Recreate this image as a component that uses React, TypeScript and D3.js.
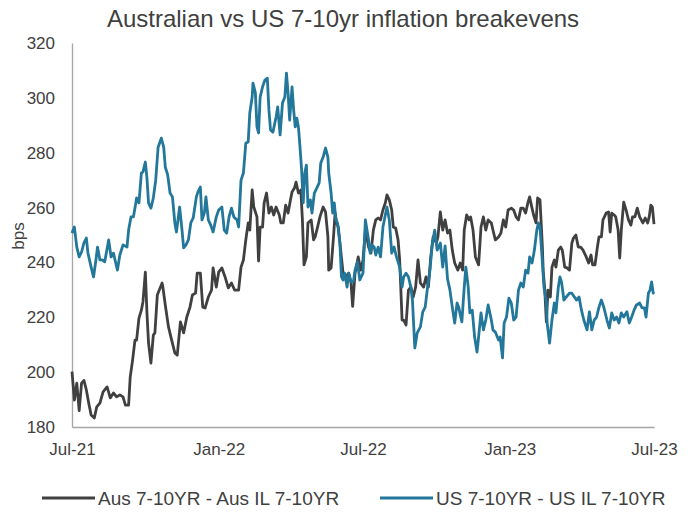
import React, { useEffect, useRef } from 'react';
import * as d3 from 'd3';

// Aus 7-10YR - Aus IL 7-10YR (bps)
const ausSeries: [string, number][] = [
  ['2021-07-01', 200.2], ['2021-07-04', 189.8], ['2021-07-07', 196], ['2021-07-10', 186], ['2021-07-13', 196],
  ['2021-07-16', 197], ['2021-07-19', 193.5], ['2021-07-22', 188.7], ['2021-07-25', 184.4], ['2021-07-29', 183.3],
  ['2021-08-01', 187.3], ['2021-08-05', 188.7], ['2021-08-09', 192.8], ['2021-08-14', 194.6], ['2021-08-18', 190.6],
  ['2021-08-22', 192.4], ['2021-08-26', 191], ['2021-08-30', 191.7], ['2021-09-03', 191], ['2021-09-06', 188],
  ['2021-09-10', 188], ['2021-09-12', 198.2], ['2021-09-15', 204.4], ['2021-09-18', 211.7], ['2021-09-20', 211.7],
  ['2021-09-23', 219.7], ['2021-09-26', 222.6], ['2021-09-28', 225.6], ['2021-10-01', 236.5], ['2021-10-03', 221.6],
  ['2021-10-05', 210.6], ['2021-10-08', 203.3], ['2021-10-11', 213.5], ['2021-10-13', 214.3], ['2021-10-16', 228.1],
  ['2021-10-22', 232.5], ['2021-10-23', 231], ['2021-10-26', 224.5], ['2021-10-30', 216.5], ['2021-11-03', 211.7],
  ['2021-11-07', 207], ['2021-11-10', 206.2], ['2021-11-14', 218.3], ['2021-11-18', 214.3], ['2021-11-22', 220.1],
  ['2021-11-26', 223.7], ['2021-11-29', 228.1], ['2021-12-03', 228.8], ['2021-12-05', 236.1], ['2021-12-09', 236.1],
  ['2021-12-12', 223.7], ['2021-12-15', 223.4], ['2021-12-19', 227.4], ['2021-12-23', 229.9], ['2021-12-25', 238],
  ['2021-12-29', 231], ['2022-01-01', 236.5], ['2022-01-05', 238], ['2022-01-09', 234.7], ['2022-01-13', 230.7],
  ['2022-01-17', 232.5], ['2022-01-21', 229.9], ['2022-01-26', 229.9], ['2022-01-29', 238.3], ['2022-02-01', 240.9],
  ['2022-02-04', 248.2], ['2022-02-07', 254.4], ['2022-02-09', 251.8], ['2022-02-12', 266.4], ['2022-02-14', 260.2],
  ['2022-02-18', 256.6], ['2022-02-20', 240.5], ['2022-02-22', 252.9], ['2022-02-25', 252.9], ['2022-02-27', 261.7],
  ['2022-03-02', 265.3], ['2022-03-05', 258], ['2022-03-08', 260.2], ['2022-03-11', 257.3], ['2022-03-14', 260.2],
  ['2022-03-18', 257.3], ['2022-03-20', 254.4], ['2022-03-23', 254.4], ['2022-03-26', 260.9], ['2022-03-29', 258],
  ['2022-04-01', 262.8], ['2022-04-03', 265.7], ['2022-04-06', 267.1], ['2022-04-08', 269.3], ['2022-04-11', 265.3],
  ['2022-04-14', 266.4], ['2022-04-16', 255.5], ['2022-04-18', 239.1], ['2022-04-21', 242], ['2022-04-23', 254.4],
  ['2022-04-27', 255.5], ['2022-04-30', 248.2], ['2022-05-02', 249.3], ['2022-05-05', 252.9], ['2022-05-08', 256.6],
  ['2022-05-12', 260.2], ['2022-05-15', 258.4], ['2022-05-18', 249.3], ['2022-05-19', 237.2], ['2022-05-22', 238],
  ['2022-05-25', 249.3], ['2022-05-27', 258], ['2022-05-29', 254.4], ['2022-05-31', 252.9], ['2022-06-03', 244.5],
  ['2022-06-06', 236.1], ['2022-06-09', 234.7], ['2022-06-13', 236.1], ['2022-06-16', 232.5], ['2022-06-18', 224],
  ['2022-06-21', 236], ['2022-06-25', 242], ['2022-06-28', 237.2], ['2022-07-01', 240.9], ['2022-07-04', 251.8],
  ['2022-07-08', 245.6], ['2022-07-11', 243.4], ['2022-07-14', 251.8], ['2022-07-17', 255.5], ['2022-07-20', 256.2],
  ['2022-07-23', 255.5], ['2022-07-26', 259.1], ['2022-07-29', 261.7], ['2022-07-31', 264.6], ['2022-08-03', 262.8],
  ['2022-08-06', 259.1], ['2022-08-08', 252.9], ['2022-08-11', 252.5], ['2022-08-14', 248.2], ['2022-08-16', 240.9],
  ['2022-08-19', 219], ['2022-08-21', 219], ['2022-08-24', 217.2], ['2022-08-27', 229.9], ['2022-08-30', 231],
  ['2022-09-02', 227.4], ['2022-09-05', 231], ['2022-09-08', 240.9], ['2022-09-11', 232.5], ['2022-09-15', 231],
  ['2022-09-18', 234.7], ['2022-09-21', 231], ['2022-09-24', 242], ['2022-09-27', 249.3], ['2022-10-01', 247.1],
  ['2022-10-03', 249.3], ['2022-10-06', 258.4], ['2022-10-09', 251.8], ['2022-10-12', 255.5], ['2022-10-15', 250.7],
  ['2022-10-18', 251.8], ['2022-10-21', 244.5], ['2022-10-24', 239.8], ['2022-10-28', 237.2], ['2022-10-31', 239.8],
  ['2022-11-03', 237.2], ['2022-11-05', 251.8], ['2022-11-08', 257.3], ['2022-11-11', 255.5], ['2022-11-13', 256.6],
  ['2022-11-16', 251.8], ['2022-11-19', 242], ['2022-11-23', 239.1], ['2022-11-26', 252.9], ['2022-11-29', 256.6],
  ['2022-12-02', 251.8], ['2022-12-05', 255.5], ['2022-12-09', 254.4], ['2022-12-11', 251.8], ['2022-12-14', 248.2],
  ['2022-12-18', 249.3], ['2022-12-21', 250.7], ['2022-12-24', 255.5], ['2022-12-27', 252.9], ['2022-12-30', 259.1],
  ['2023-01-03', 259.8], ['2023-01-06', 259.1], ['2023-01-09', 256.6], ['2023-01-12', 255.5], ['2023-01-15', 259.8],
  ['2023-01-18', 259.8], ['2023-01-21', 258], ['2023-01-24', 262], ['2023-01-26', 263.9], ['2023-01-29', 259.8],
  ['2023-01-31', 257.3], ['2023-02-03', 254.4], ['2023-02-05', 263.5], ['2023-02-08', 262.8], ['2023-02-11', 245.6],
  ['2023-02-12', 237], ['2023-02-14', 230], ['2023-02-16', 218.3], ['2023-02-18', 229.9], ['2023-02-21', 227.4],
  ['2023-02-23', 238.3], ['2023-02-26', 240.9], ['2023-02-28', 238.3], ['2023-03-03', 244.5], ['2023-03-06', 245.6],
  ['2023-03-08', 244.5], ['2023-03-11', 238.3], ['2023-03-14', 238], ['2023-03-17', 237.2], ['2023-03-20', 247.1],
  ['2023-03-22', 248.9], ['2023-03-25', 250], ['2023-03-28', 245.6], ['2023-03-31', 245.6], ['2023-04-03', 244.5],
  ['2023-04-07', 242], ['2023-04-10', 239.8], ['2023-04-13', 242.7], ['2023-04-15', 239.1], ['2023-04-18', 239.1],
  ['2023-04-21', 245.6], ['2023-04-23', 249.3], ['2023-04-26', 249.3], ['2023-04-28', 255.5], ['2023-05-02', 258],
  ['2023-05-05', 258.4], ['2023-05-07', 251.1], ['2023-05-09', 258], ['2023-05-12', 257.3], ['2023-05-14', 256.6],
  ['2023-05-17', 251.8], ['2023-05-19', 241.6], ['2023-05-21', 251.8], ['2023-05-24', 262], ['2023-05-27', 259.1],
  ['2023-05-30', 255.5], ['2023-06-02', 253.6], ['2023-06-04', 256.6], ['2023-06-07', 256.6], ['2023-06-10', 259.8],
  ['2023-06-13', 256.6], ['2023-06-17', 254.4], ['2023-06-20', 256.2], ['2023-06-23', 254.4], ['2023-06-25', 256.6],
  ['2023-06-27', 260.9], ['2023-06-29', 260.2], ['2023-07-01', 254],
];

// US 7-10YR - US IL 7-10YR (bps)
const usSeries: [string, number][] = [
  ['2021-07-01', 250.7], ['2021-07-04', 252.9], ['2021-07-07', 245.6], ['2021-07-10', 242], ['2021-07-13', 243.8],
  ['2021-07-16', 247.1], ['2021-07-19', 248.9], ['2021-07-21', 243.4], ['2021-07-25', 238.3], ['2021-07-28', 234.7],
  ['2021-07-31', 240.9], ['2021-08-02', 245.6], ['2021-08-05', 240.9], ['2021-08-08', 240.9], ['2021-08-11', 240.2],
  ['2021-08-16', 248.2], ['2021-08-19', 242], ['2021-08-22', 243.4], ['2021-08-24', 240.9], ['2021-08-27', 237.2],
  ['2021-08-30', 242.7], ['2021-09-03', 246.4], ['2021-09-08', 245.6], ['2021-09-10', 251.8], ['2021-09-13', 256.6],
  ['2021-09-16', 256.6], ['2021-09-18', 259.8], ['2021-09-20', 263.5], ['2021-09-23', 261.7], ['2021-09-26', 272.6],
  ['2021-09-28', 273], ['2021-10-01', 276.6], ['2021-10-03', 270.8], ['2021-10-05', 261.7], ['2021-10-08', 259.8],
  ['2021-10-11', 263.5], ['2021-10-14', 270], ['2021-10-17', 282], ['2021-10-21', 285.3], ['2021-10-24', 282],
  ['2021-10-26', 274.8], ['2021-10-29', 271.9], ['2021-11-01', 265.3], ['2021-11-04', 263.9], ['2021-11-07', 254.4],
  ['2021-11-09', 251.1], ['2021-11-13', 260.2], ['2021-11-16', 251.8], ['2021-11-18', 245.3], ['2021-11-21', 246.4],
  ['2021-11-24', 248.2], ['2021-11-27', 254.4], ['2021-11-30', 256.2], ['2021-12-04', 263.9], ['2021-12-06', 265.7],
  ['2021-12-09', 267.5], ['2021-12-11', 255.5], ['2021-12-14', 258], ['2021-12-16', 263.9], ['2021-12-19', 255.5],
  ['2021-12-22', 253.6], ['2021-12-25', 251.1], ['2021-12-29', 256.6], ['2022-01-01', 259.1], ['2022-01-05', 260.2],
  ['2022-01-08', 251.8], ['2022-01-11', 250.7], ['2022-01-14', 256.6], ['2022-01-17', 259.8], ['2022-01-20', 256.6],
  ['2022-01-24', 255.5], ['2022-01-26', 252.9], ['2022-01-29', 270], ['2022-02-01', 272.6], ['2022-02-04', 283.5],
  ['2022-02-07', 283.9], ['2022-02-09', 294.5], ['2022-02-12', 300.3], ['2022-02-13', 305.4], ['2022-02-16', 301.8],
  ['2022-02-18', 289.4], ['2022-02-20', 287.2], ['2022-02-22', 300.3], ['2022-02-25', 304], ['2022-02-28', 306.5],
  ['2022-03-03', 307.2], ['2022-03-05', 295.6], ['2022-03-07', 288.3], ['2022-03-10', 287.5], ['2022-03-14', 293],
  ['2022-03-16', 296.7], ['2022-03-19', 286.5], ['2022-03-22', 298.1], ['2022-03-25', 300.3], ['2022-03-27', 309],
  ['2022-03-29', 301.8], ['2022-03-31', 291.9], ['2022-04-03', 304], ['2022-04-05', 295.6], ['2022-04-07', 289.4],
  ['2022-04-09', 292.6], ['2022-04-11', 289.4], ['2022-04-13', 282], ['2022-04-15', 273.7], ['2022-04-17', 261.7],
  ['2022-04-19', 272.6], ['2022-04-21', 275.5], ['2022-04-23', 260.2], ['2022-04-26', 262.8], ['2022-04-28', 258],
  ['2022-05-01', 265.3], ['2022-05-04', 267.1], ['2022-05-07', 269], ['2022-05-09', 276.2], ['2022-05-12', 278.4],
  ['2022-05-15', 281.7], ['2022-05-18', 278.4], ['2022-05-19', 272.6], ['2022-05-22', 265.3], ['2022-05-24', 258],
  ['2022-05-26', 261.7], ['2022-05-28', 255.5], ['2022-05-30', 254.4], ['2022-06-02', 247.1], ['2022-06-04', 234.7],
  ['2022-06-06', 233.6], ['2022-06-08', 236.1], ['2022-06-11', 231], ['2022-06-13', 236.1], ['2022-06-16', 232.9],
  ['2022-06-19', 233], ['2022-06-21', 237.2], ['2022-06-24', 240.2], ['2022-06-27', 233.6], ['2022-07-01', 236.1],
  ['2022-07-04', 255.5], ['2022-07-08', 248.2], ['2022-07-10', 243.4], ['2022-07-12', 246.4], ['2022-07-15', 245.6],
  ['2022-07-17', 242.7], ['2022-07-20', 245.6], ['2022-07-23', 242], ['2022-07-26', 252.9], ['2022-07-29', 257.3],
  ['2022-07-31', 260.2], ['2022-08-03', 255.5], ['2022-08-06', 243.4], ['2022-08-09', 245.6], ['2022-08-12', 242],
  ['2022-08-16', 238.3], ['2022-08-19', 231], ['2022-08-21', 234.7], ['2022-08-24', 236.1], ['2022-08-27', 234.7],
  ['2022-08-30', 231], ['2022-09-01', 226.3], ['2022-09-04', 208.8], ['2022-09-07', 214.3], ['2022-09-11', 216.5],
  ['2022-09-14', 222], ['2022-09-17', 223.7], ['2022-09-20', 231], ['2022-09-23', 237.2], ['2022-09-26', 247.1],
  ['2022-09-29', 251.8], ['2022-10-02', 244.5], ['2022-10-06', 247.1], ['2022-10-09', 238.3], ['2022-10-12', 246],
  ['2022-10-15', 234], ['2022-10-18', 230], ['2022-10-21', 223.7], ['2022-10-24', 217.9], ['2022-10-27', 225.2],
  ['2022-10-29', 223.7], ['2022-11-02', 218.3], ['2022-11-05', 231], ['2022-11-07', 238.3], ['2022-11-10', 231],
  ['2022-11-12', 221.6], ['2022-11-15', 222.6], ['2022-11-18', 212.8], ['2022-11-21', 207.3], ['2022-11-23', 212.8],
  ['2022-11-26', 221.6], ['2022-11-29', 215.4], ['2022-12-02', 219], ['2022-12-05', 224.5], ['2022-12-09', 219],
  ['2022-12-11', 215.4], ['2022-12-14', 214.6], ['2022-12-18', 211.7], ['2022-12-20', 212.8], ['2022-12-23', 205.2],
  ['2022-12-25', 217.9], ['2022-12-28', 220.1], ['2022-12-31', 227], ['2023-01-03', 225.2], ['2023-01-06', 219],
  ['2023-01-09', 220.1], ['2023-01-12', 229.9], ['2023-01-15', 232.5], ['2023-01-18', 231], ['2023-01-21', 237.2],
  ['2023-01-24', 236.1], ['2023-01-26', 242], ['2023-01-29', 239.8], ['2023-02-01', 244.5], ['2023-02-04', 251.8],
  ['2023-02-06', 254.4], ['2023-02-08', 252.9], ['2023-02-11', 240], ['2023-02-13', 231], ['2023-02-16', 225.2],
  ['2023-02-17', 217.9], ['2023-02-20', 210.6], ['2023-02-23', 219], ['2023-02-26', 225.2], ['2023-02-28', 221.6],
  ['2023-03-03', 231], ['2023-03-05', 234.7], ['2023-03-07', 232.9], ['2023-03-10', 226.3], ['2023-03-13', 227.4],
  ['2023-03-17', 228.8], ['2023-03-20', 228.8], ['2023-03-23', 227.4], ['2023-03-26', 226.3], ['2023-03-29', 227.4],
  ['2023-04-01', 222.6], ['2023-04-04', 219], ['2023-04-08', 215.4], ['2023-04-11', 222], ['2023-04-14', 215.4],
  ['2023-04-17', 219], ['2023-04-20', 220.1], ['2023-04-23', 223.7], ['2023-04-26', 226.3], ['2023-04-29', 223.7],
  ['2023-05-03', 219], ['2023-05-06', 216.1], ['2023-05-09', 221.6], ['2023-05-12', 219], ['2023-05-15', 220.1],
  ['2023-05-18', 217.9], ['2023-05-21', 221.6], ['2023-05-24', 220.1], ['2023-05-28', 222], ['2023-05-31', 217.9],
  ['2023-06-03', 220.1], ['2023-06-06', 222.6], ['2023-06-09', 224.5], ['2023-06-13', 225.2], ['2023-06-16', 223.4],
  ['2023-06-19', 223.4], ['2023-06-21', 220.1], ['2023-06-24', 228.8], ['2023-06-26', 229.9], ['2023-06-28', 232.9],
  ['2023-06-30', 228.8], ['2023-07-01', 229.2],
];

const yTicks = [180, 200, 220, 240, 260, 280, 300, 320];
const xTicks = ['2021-07-01', '2022-01-01', '2022-07-01', '2023-01-01', '2023-07-01'];
const seriesNames = ['Aus 7-10YR - Aus IL 7-10YR', 'US 7-10YR - US IL 7-10YR'];
const seriesColors = ['#404040', '#22779a'];

const W = 699;
const H = 513;
const FONT = '"Liberation Sans", Arial, sans-serif';

const App: React.FC = () => {
  const svgRef = useRef<SVGSVGElement>(null);

  useEffect(() => {
    if (!svgRef.current) return;
    const parse = d3.timeParse('%Y-%m-%d');
    const margin = { top: 43, right: 45, bottom: 86, left: 72 };

    const svg = d3.select(svgRef.current);
    svg.selectAll('*').remove();

    const x = d3.scaleTime()
      .domain([parse('2021-07-01') as Date, parse('2023-07-01') as Date])
      .range([margin.left, W - margin.right]);
    const y = d3.scaleLinear()
      .domain([180, 320])
      .range([H - margin.bottom, margin.top]);

    // Title
    svg.append('text')
      .attr('x', 343)
      .attr('y', 27)
      .attr('text-anchor', 'middle')
      .attr('fill', '#404040')
      .style('font-family', FONT)
      .style('font-size', '24px')
      .text('Australian vs US 7-10yr inflation breakevens');

    // Y axis
    const yAxis = svg.append('g')
      .attr('transform', `translate(${margin.left},0)`)
      .call(d3.axisLeft(y).tickValues(yTicks).tickSize(0).tickSizeOuter(0).tickPadding(17));
    yAxis.select('.domain').attr('stroke', '#a6a6a6').attr('stroke-width', 1.3);
    yAxis.selectAll('text')
      .attr('fill', '#404040')
      .style('font-family', FONT)
      .style('font-size', '17px');

    // X axis
    const xAxis = svg.append('g')
      .attr('transform', `translate(0,${H - margin.bottom})`)
      .call(d3.axisBottom(x)
        .tickValues(xTicks.map(d => parse(d) as Date))
        .tickFormat(d3.timeFormat('%b-%y') as any)
        .tickSize(0).tickSizeOuter(0).tickPadding(16));
    xAxis.select('.domain').attr('stroke', '#a6a6a6').attr('stroke-width', 1.3);
    xAxis.selectAll('text')
      .attr('fill', '#404040')
      .style('font-family', FONT)
      .style('font-size', '17px');

    // Y axis title
    svg.append('text')
      .attr('transform', `translate(24,236) rotate(-90)`)
      .attr('text-anchor', 'middle')
      .attr('fill', '#404040')
      .style('font-family', FONT)
      .style('font-size', '17px')
      .text('bps');

    // Lines
    const line = d3.line<[string, number]>()
      .x(d => x(parse(d[0]) as Date))
      .y(d => y(d[1]));

    [ausSeries, usSeries].forEach((series, i) => {
      svg.append('path')
        .datum(series)
        .attr('fill', 'none')
        .attr('stroke', seriesColors[i])
        .attr('stroke-width', 2.8)
        .attr('stroke-linejoin', 'round')
        .attr('d', line);
    });

    // Legend
    const legendX = [42, 380];
    seriesNames.forEach((name, i) => {
      const g = svg.append('g').attr('transform', `translate(${legendX[i]},498)`);
      g.append('line')
        .attr('x1', 0).attr('x2', 53)
        .attr('y1', 0).attr('y2', 0)
        .attr('stroke', seriesColors[i])
        .attr('stroke-width', 3);
      g.append('text')
        .attr('x', 56)
        .attr('y', 0)
        .attr('dy', '0.35em')
        .attr('fill', '#404040')
        .style('font-family', FONT)
        .style('font-size', '19px')
        .text(name);
    });
  }, []);

  return (
    <div style={{ position: 'absolute', left: 0, top: 0 }}>
      <svg ref={svgRef} width={W} height={H} style={{ display: 'block', background: '#fff' }}></svg>
    </div>
  );
};

export default App;
